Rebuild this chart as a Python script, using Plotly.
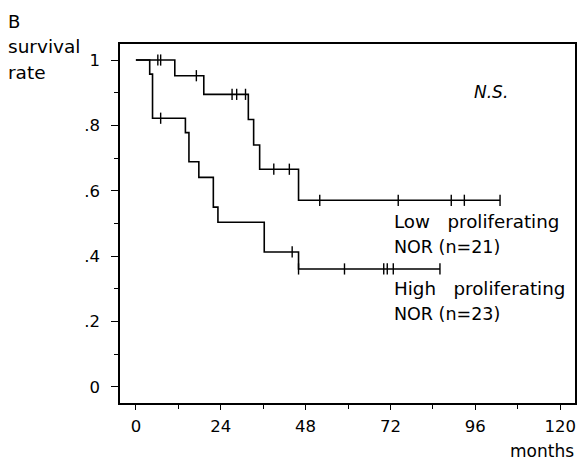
import plotly.graph_objects as go

# Low proliferating NOR (n=21)
low_t = [0, 11, 19.2, 31.8, 33.3, 35, 46, 103]
low_s = [1, 0.952, 0.895, 0.818, 0.74, 0.666, 0.571, 0.571]
low_cens_t = [6.2, 7, 17.1, 27.2, 28.5, 31, 39, 43.4, 52, 74.2, 89.2, 92.9, 103]
low_cens_s = [1, 1, 0.952, 0.895, 0.895, 0.895, 0.666, 0.666, 0.571, 0.571, 0.571, 0.571, 0.571]

# High proliferating NOR (n=23)
high_t = [0, 3.9, 4.7, 14, 15, 17.8, 21.9, 23.2, 36.3, 46, 86]
high_s = [1, 0.957, 0.822, 0.778, 0.689, 0.641, 0.55, 0.504, 0.413, 0.361, 0.361]
high_cens_t = [7, 44.2, 46, 59, 70.1, 71.1, 72.8, 86]
high_cens_s = [0.822, 0.413, 0.361, 0.361, 0.361, 0.361, 0.361, 0.361]

x_ticks = [0, 24, 48, 72, 96, 120]
x_ticktext = ["0", "24", "48", "72", "96", "120"]
y_ticks = [0, 0.2, 0.4, 0.6, 0.8, 1]
y_ticktext = ["0", ".2", ".4", ".6", ".8", "1"]

FONT = "DejaVu Sans"
W, H = 581, 461
ML, MR, MT, MB = 120, 4, 44, 58

fig = go.Figure()
for t, s in [(low_t, low_s), (high_t, high_s)]:
    fig.add_trace(go.Scatter(x=t, y=s, mode="lines", line=dict(shape="hv", color="black", width=1.6),
                             showlegend=False, hoverinfo="skip"))
for t, s in [(low_cens_t, low_cens_s), (high_cens_t, high_cens_s)]:
    fig.add_trace(go.Scatter(x=t, y=s, mode="markers",
                             marker=dict(symbol="line-ns-open", size=8, color="black",
                                         line=dict(color="black", width=1.4)),
                             showlegend=False, hoverinfo="skip"))

fig.update_layout(
    width=W, height=H,
    margin=dict(l=ML, r=MR, t=MT, b=MB),
    paper_bgcolor="white", plot_bgcolor="white",
    font=dict(family=FONT, size=16, color="black"),
    xaxis=dict(range=[-4.5, 124.2], tickvals=x_ticks, ticktext=x_ticktext, ticks="outside", ticklen=5,
               tickwidth=1.3, tickcolor="black", showgrid=False, zeroline=False, showline=True,
               linecolor="black", linewidth=1.6, mirror=True, ticklabelstandoff=2,
               tickfont=dict(size=16.5),
               minor=dict(tickvals=[12, 36, 60, 84, 108], ticks="outside", ticklen=4, tickcolor="black",
                          tickwidth=1.3)),
    yaxis=dict(range=[-0.049, 1.049], tickvals=y_ticks, ticktext=y_ticktext, ticks="outside", ticklen=7,
               tickwidth=1.3, tickcolor="black", showgrid=False, zeroline=False, showline=True,
               linecolor="black", linewidth=1.6, mirror=True, ticklabelstandoff=8,
               tickfont=dict(size=16.5),
               minor=dict(tickvals=[0.1, 0.3, 0.5, 0.7, 0.9], ticks="outside", ticklen=4, tickcolor="black",
                          tickwidth=1.3)),
)


def txt(text, px, py, size=17.5, anchor="left", italic=False):
    fig.add_annotation(text=("<i>%s</i>" % text) if italic else text,
                       xref="paper", yref="paper",
                       x=(px - ML) / (W - ML - MR), y=(H - MB - py) / (H - MT - MB),
                       showarrow=False, xanchor=anchor, yanchor="middle",
                       font=dict(size=size, family=FONT, color="black"))


txt("B", 6, 21, 18)
txt("survival", 6, 46, 18.5)
txt("rate", 6, 72, 18.5)
txt("N.S.", 474, 92, 17, italic=True)
txt("Low&nbsp;&nbsp;&nbsp;proliferating", 393, 221, 18.3)
txt("NOR (n=21)", 393, 247)
txt("High&nbsp;&nbsp;&nbsp;proliferating", 393, 288, 18.3)
txt("NOR (n=23)", 393, 314)
txt("months", 578, 451, 17, anchor="right")

fig.write_html("out.html", config={"displayModeBar": False},
               post_script="document.body.style.margin='0';")
